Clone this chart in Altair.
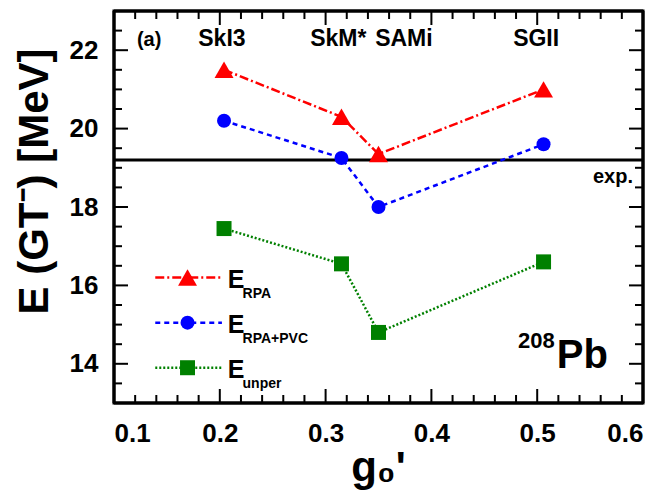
import altair as alt
import pandas as pd

# ---- data ----
models = ["SkI3", "SkM*", "SAMi", "SGII"]
g0 = [0.204, 0.315, 0.350, 0.506]
e_rpa = [21.5, 20.3, 19.35, 21.0]
e_pvc = [20.2, 19.25, 18.0, 19.6]
e_unper = [17.45, 16.55, 14.8, 16.6]
exp_value = 19.2
model_label_x = [0.202, 0.312, 0.374, 0.499]
series_names = ["RPA", "RPA+PVC", "unper"]

x_major = [0.1, 0.2, 0.3, 0.4, 0.5, 0.6]
x_minor = [0.12, 0.14, 0.16, 0.18, 0.22, 0.24, 0.26, 0.28, 0.32, 0.34, 0.36, 0.38,
           0.42, 0.44, 0.46, 0.48, 0.52, 0.54, 0.56, 0.58]
y_major = [14, 16, 18, 20, 22]
y_minor = [13.5, 14.5, 15, 15.5, 16.5, 17, 17.5, 18.5, 19, 19.5, 20.5, 21, 21.5, 22.5]

# ---- layout / style ----
W, H = 529, 392
FONT = "Liberation Sans"
MAJ, MIN = 14, 8
styles = [
    dict(color="#ff0000", dash=[9, 3, 2, 3], shape="triangle-up", size=360),
    dict(color="#0000ff", dash=[5, 4], shape="circle", size=196),
    dict(color="#008000", dash=[2, 2], shape="square", size=225),
]
values = [e_rpa, e_pvc, e_unper]

xs = alt.Scale(domain=[0.1, 0.6], nice=False, zero=False)
ys = alt.Scale(domain=[13, 23], nice=False, zero=False)

x_axis = alt.Axis(values=x_major, format=".1f", domain=False, ticks=False, grid=False,
                  labelFont=FONT, labelFontSize=26, labelFontWeight="bold", labelColor="black",
                  labelPadding=17, title="g₀'", titleFont=FONT, titleFontSize=42,
                  titleFontWeight="bold", titleColor="black", titleX=264, titleY=77,
                  titleBaseline="alphabetic")
y_axis = alt.Axis(values=y_major, domain=False, ticks=False, grid=False,
                  labelFont=FONT, labelFontSize=26, labelFontWeight="bold", labelColor="black",
                  labelPadding=16, title="E (GT⁻) [MeV]", titleFont=FONT, titleFontSize=42,
                  titleFontWeight="bold", titleColor="black", titleX=-80, titleY=170,
                  titleAlign="center", titleBaseline="middle", titleAngle=270)


def X(f="x"):
    return alt.X(f + ":Q", scale=xs, axis=x_axis)


def Y(f="y"):
    return alt.Y(f + ":Q", scale=ys, axis=y_axis)


layers = []

# exp line
layers.append(alt.Chart(pd.DataFrame({"y": [exp_value]})).mark_rule(color="black", strokeWidth=3)
              .encode(y=Y()))

# series lines + points
for vals, st in zip(values, styles):
    df = pd.DataFrame({"x": g0, "y": vals})
    layers.append(alt.Chart(df).mark_line(color=st["color"], strokeWidth=2.5, strokeDash=st["dash"])
                  .encode(x=X(), y=Y()))
    layers.append(alt.Chart(df).mark_point(color=st["color"], filled=True, opacity=1,
                                           shape=st["shape"], size=st["size"])
                  .encode(x=X(), y=Y()))


# ticks (inward, all four sides)
def vticks(vals, length, top):
    df = pd.DataFrame({"x": vals})
    y1 = 0 if top else H
    y2 = length if top else H - length
    return alt.Chart(df).mark_rule(color="black", strokeWidth=2).encode(
        x=X(), y=alt.value(y1), y2=alt.value(y2))


def hticks(vals, length, left):
    df = pd.DataFrame({"y": vals})
    x1 = 0 if left else W
    x2 = length if left else W - length
    return alt.Chart(df).mark_rule(color="black", strokeWidth=2).encode(
        y=Y(), x=alt.value(x1), x2=alt.value(x2))


for top in (True, False):
    layers.append(vticks(x_major, MAJ, top))
    layers.append(vticks(x_minor, MIN, top))
for left in (True, False):
    layers.append(hticks(y_major, MAJ, left))
    layers.append(hticks(y_minor, MIN, left))

# frame
frame = pd.DataFrame({"x": [0.1, 0.6]})
layers.append(alt.Chart(frame).mark_rule(color="black", strokeWidth=3).encode(
    x=X(), y=alt.value(0), y2=alt.value(H)))
frame_y = pd.DataFrame({"y": [13, 23]})
layers.append(alt.Chart(frame_y).mark_rule(color="black", strokeWidth=3).encode(
    y=Y(), x=alt.value(0), x2=alt.value(W)))


def text_layer(df, size, align, dy=0):
    return alt.Chart(df).mark_text(font=FONT, fontSize=size, fontWeight="bold", color="black",
                                   baseline="alphabetic", align=align, dy=dy).encode(
        x=X(), y=Y(), text="t:N")


# model labels on top
layers.append(text_layer(pd.DataFrame({"x": model_label_x, "y": [22.1] * 4, "t": models}), 23, "center"))

# annotations
layers.append(text_layer(pd.DataFrame({"x": [0.1217], "y": [22.1], "t": ["(a)"]}), 20, "left"))
layers.append(text_layer(pd.DataFrame({"x": [0.5905], "y": [18.6], "t": ["exp."]}), 20, "right"))
layers.append(text_layer(pd.DataFrame({"x": [0.5165], "y": [14.4], "t": ["208"]}), 22, "right"))
layers.append(text_layer(pd.DataFrame({"x": [0.5185], "y": [13.89], "t": ["Pb"]}), 40, "left"))

# hand-made legend
leg_y = [16.2, 15.05, 13.9]
for ly, st, name in zip(leg_y, styles, series_names):
    seg = pd.DataFrame({"x": [0.139], "x2": [0.202], "y": [ly]})
    layers.append(alt.Chart(seg).mark_rule(color=st["color"], strokeWidth=2.5, strokeDash=st["dash"])
                  .encode(x=X(), x2="x2:Q", y=Y()))
    mk = pd.DataFrame({"x": [0.1695], "y": [ly]})
    layers.append(alt.Chart(mk).mark_point(color=st["color"], filled=True, opacity=1,
                                           shape=st["shape"], size=st["size"])
                  .encode(x=X(), y=Y()))
    layers.append(text_layer(pd.DataFrame({"x": [0.2075], "y": [ly], "t": ["E"]}), 25, "left", dy=10))
    layers.append(text_layer(pd.DataFrame({"x": [0.2215], "y": [ly], "t": [name]}), 14, "left", dy=20))

chart = alt.layer(*layers).properties(
    width=W, height=H, autosize="none",
    padding={"left": 114, "top": 11, "right": 22, "bottom": 90},
).configure(background="white").configure_view(stroke="black", strokeWidth=3)

chart.save("out.html", embed_options={"renderer": "svg", "actions": False})
